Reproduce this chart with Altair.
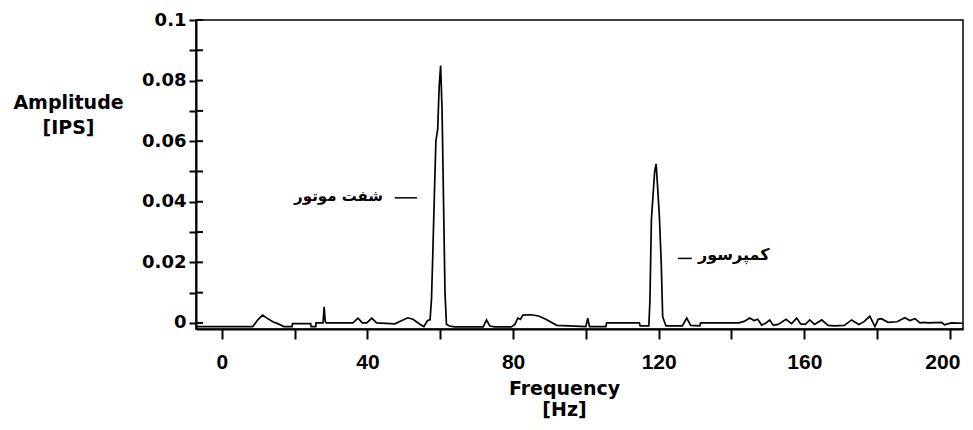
import altair as alt
import pandas as pd

# ---- spectrum trace ----
freq_hz = [-7, 8.5, 10, 11.2, 12.5, 14, 15.5, 17, 19.3, 19.4, 24.4, 24.5, 25.8, 25.9, 27.8, 28.1, 28.4, 28.7,
           36, 37.4, 38.6, 39.8, 41.2, 42.5, 47.5, 49.5, 51.1, 52.5, 54.5, 55.5, 56.5, 57.2,
           57.6, 58.0, 58.4, 58.8, 59.3, 59.7, 60.1, 60.5, 60.9, 61.3, 61.7, 62.5, 64,
           71.8, 72.7, 73.6, 75, 79.5, 80.5, 81.3, 82.0, 82.7, 85, 87, 89, 92,
           100, 100.5, 101, 105.5, 105.7, 114.7, 114.9, 117.3,
           117.6, 118.0, 118.5, 118.9, 119.3, 119.7, 120.2, 120.7, 121.1, 122,
           126.5, 127.7, 128.8, 131.3, 131.5, 142, 143.5, 145, 146.2, 147.2, 148.3, 149.5, 150.5,
           151.5, 152.8, 155, 156.5, 157.9, 159, 160.3, 161.5, 162.8, 164.8, 166.5, 168.4,
           171, 173, 175, 176.5, 178, 179.4, 180.3, 181.2, 183, 185.5, 187.6, 189, 190.4,
           191.8, 193, 194, 197.7, 198.5, 200.4, 203.5]
amplitude_ips = [-0.0012, -0.0012, 0.0012, 0.0026, 0.0015, 0.0004, -0.0003, -0.0012, -0.0012, -0.0002,
                 -0.0002, -0.0012, -0.0012, 0.0, 0.0, 0.0053, 0.0005, 0.0,
                 0.0, 0.0016, 0.0, 0.0, 0.0016, 0.0, -0.0003, 0.0008, 0.0017, 0.0012, -0.0005, -0.0012, 0.0008, 0.001,
                 0.008, 0.025, 0.043, 0.060, 0.064, 0.078, 0.085, 0.070, 0.040, 0.010, -0.0004, -0.0010, -0.0013,
                 -0.0013, 0.001, -0.0010, -0.0013, -0.0013, -0.0005, 0.0016, 0.0012, 0.0026, 0.0027, 0.0023, 0.0012, -0.0008,
                 -0.0012, 0.0016, -0.0012, -0.0012, 0.0, 0.0, -0.0010, -0.0010,
                 0.0075, 0.034, 0.043, 0.050, 0.0525, 0.045, 0.035, 0.020, 0.002, -0.0010,
                 -0.0010, 0.0016, -0.0008, -0.0010, 0.0, 0.0, 0.0005, 0.0016, 0.0008, 0.0012, -0.0007, 0.0, 0.001,
                 -0.0008, -0.0005, 0.0012, -0.0002, 0.0016, -0.0003, -0.0005, 0.001, -0.0005, 0.001, -0.0008, -0.0010,
                 -0.0008, 0.001, -0.0005, 0.0005, 0.0022, -0.0012, 0.0012, 0.0014, 0.0002, 0.0004, 0.0017, 0.0008, 0.0014,
                 0.0, 0.0002, 0.0, 0.0002, -0.0006, 0.0, -0.0001]

# ---- axes ----
y_tick_values = [0.0, 0.01, 0.02, 0.03, 0.04, 0.05, 0.06, 0.07, 0.08, 0.09, 0.1]
x_tick_values = [0, 20, 40, 60, 80, 100, 120, 140, 160, 180, 200]
x_domain = [-7.1, 203.6]
y_domain = [-0.002, 0.1]

# ---- annotations ----
label_left_text = ["شفت موتور"]
label_left_x = [44.3]
label_left_y = [0.0418]
label_right_text = ["کمپرسور"]
label_right_x = [130.8]
label_right_y = [0.0224]
dash_x = [47.5, 125.3]
dash_x2 = [53.6, 129.1]
dash_y = [0.0413, 0.0213]

trace = pd.DataFrame({"f": freq_hz, "a": amplitude_ips})
yticks = pd.DataFrame({"a": y_tick_values})
dashes = pd.DataFrame({"f": dash_x, "f2": dash_x2, "a": dash_y})
lab_l = pd.DataFrame({"t": label_left_text, "f": label_left_x, "a": label_left_y})
lab_r = pd.DataFrame({"t": label_right_text, "f": label_right_x, "a": label_right_y})

xs = alt.Scale(domain=x_domain, nice=False, zero=False)
ys = alt.Scale(domain=y_domain, nice=False, zero=False)

ax_x = alt.Axis(values=x_tick_values, title=["Frequency", "[Hz]"],
                labelExpr="datum.value % 40 == 0 ? datum.label : ''",
                labelFont="Liberation Sans", labelFontWeight="bold", labelFontSize=21,
                labelColor="black", labelPadding=12,
                labelFlush=14, labelFlushOffset=10,
                tickSize=10, tickWidth=2, tickColor="black",
                domainColor="black", domainWidth=2, grid=False,
                titleFont="DejaVu Sans", titleFontWeight="bold", titleFontSize=19,
                titleColor="black", titleAngle=0, titleAlign="center",
                titleBaseline="top", titleX=368, titleY=50, titleLineHeight=21)
ax_y = alt.Axis(values=y_tick_values, title=["Amplitude", "[IPS]"],
                labelExpr="round(datum.value*100) % 2 == 0 ? format(datum.value, '~g') : ''",
                labelFont="DejaVu Sans", labelFontWeight="bold", labelFontSize=18,
                labelColor="black", labelPadding=3,
                tickSize=7, tickWidth=2, tickColor="black",
                domainColor="black", domainWidth=2, grid=False,
                titleFont="DejaVu Sans", titleFontWeight="bold", titleFontSize=19,
                titleColor="black", titleAngle=0, titleAlign="center",
                titleBaseline="top", titleX=-128, titleY=73, titleLineHeight=25)

X = alt.X("f:Q", scale=xs, axis=ax_x)
Y = alt.Y("a:Q", scale=ys, axis=ax_y)

line = alt.Chart(trace).mark_line(color="black", strokeWidth=1.7, clip=True).encode(x=X, y=Y)

inner_ticks = alt.Chart(yticks).mark_rule(color="black", strokeWidth=2).encode(
    y=Y, x=alt.value(0), x2=alt.value(7),
)

dash = alt.Chart(dashes).mark_rule(color="black", strokeWidth=1.5).encode(
    x=X, x2="f2:Q", y=Y,
)

text_l = alt.Chart(lab_l).mark_text(align="right", baseline="middle", font="DejaVu Sans",
                                    fontWeight="bold", fontSize=15, color="black").encode(
    x=X, y=Y, text="t:N")

text_r = alt.Chart(lab_r).mark_text(align="left", baseline="middle", font="DejaVu Sans",
                                    fontWeight="bold", fontSize=16, color="black").encode(
    x=X, y=Y, text="t:N")

chart = alt.layer(line, inner_ticks, dash, text_l, text_r).properties(
    width=767, height=309,
    padding={"left": 188, "top": 12, "right": 2, "bottom": 90},
    autosize="none",
    background="white",
).configure_view(stroke="black", strokeWidth=1.5, fill="white")

chart.save("out.html", embed_options={"renderer": "svg", "actions": False})
